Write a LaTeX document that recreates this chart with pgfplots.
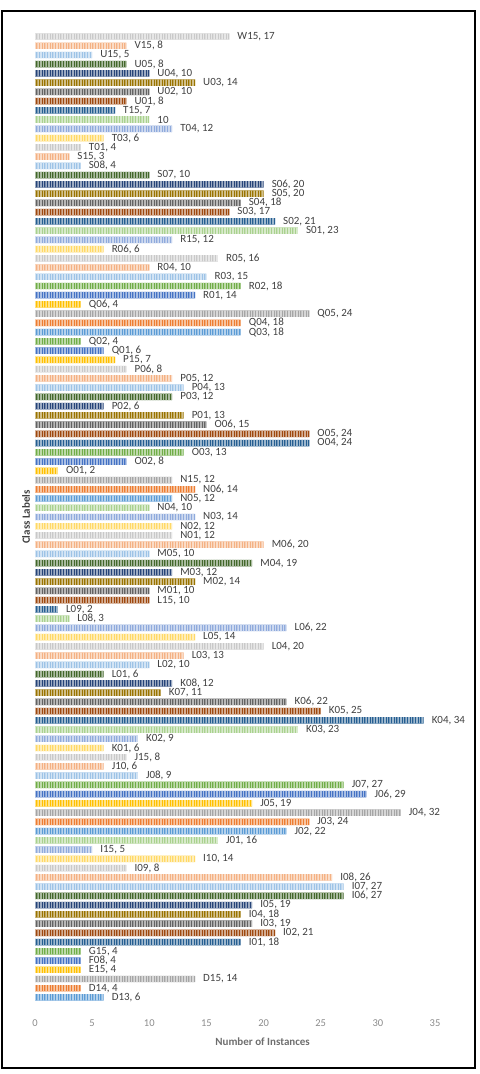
\documentclass[border=0pt]{standalone}
\usepackage{pgfplots}
\pgfplotsset{compat=1.18}
\usepackage{pgfplotstable}
\usepackage{fontspec}
\setmainfont{Carlito}
\usetikzlibrary{patterns.meta}

% Office palette: base, darker and lighter shades
\definecolor{cA}{HTML}{5B9BD5}
\definecolor{cB}{HTML}{ED7D31}
\definecolor{cC}{HTML}{A5A5A5}
\definecolor{cD}{HTML}{FFC000}
\definecolor{cE}{HTML}{4472C4}
\definecolor{cF}{HTML}{70AD47}
\definecolor{cG}{HTML}{255E91}
\definecolor{cH}{HTML}{9E480E}
\definecolor{cI}{HTML}{636363}
\definecolor{cJ}{HTML}{997300}
\definecolor{cK}{HTML}{264478}
\definecolor{cL}{HTML}{43682B}
\definecolor{cM}{HTML}{9DC3E6}
\definecolor{cN}{HTML}{F4B183}
\definecolor{cO}{HTML}{C9C9C9}
\definecolor{cP}{HTML}{FFD966}
\definecolor{cQ}{HTML}{8FAADC}
\definecolor{cR}{HTML}{A9D18E}
\definecolor{labelgray}{HTML}{404040}
\definecolor{tickgray}{HTML}{8C8C8C}
\definecolor{titlegray}{HTML}{6E6E6E}

% i = row position (bottom to top), v = instances; one table per bar colour
\pgfplotstableread{
i v name
0 6 D13
18 22 J02
54 12 N05
72 18 Q03
}\tabA
\pgfplotstableread{
i v name
1 4 D14
19 24 J03
55 14 N06
73 18 Q04
}\tabB
\pgfplotstableread{
i v name
2 14 D15
20 32 J04
56 12 N15
74 24 Q05
}\tabC
\pgfplotstableread{
i v name
3 4 E15
21 19 J05
57 2 O01
69 7 P15
75 4 Q06
}\tabD
\pgfplotstableread{
i v name
4 4 F08
22 29 J06
58 8 O02
70 6 Q01
76 14 R01
}\tabE
\pgfplotstableread{
i v name
5 4 G15
23 27 J07
59 13 O03
71 4 Q02
77 18 R02
}\tabF
\pgfplotstableread{
i v name
6 18 I01
30 34 K04
42 2 L09
60 24 O04
84 21 S02
96 7 T15
}\tabG
\pgfplotstableread{
i v name
7 21 I02
31 25 K05
43 10 L15
61 24 O05
85 17 S03
97 8 U01
}\tabH
\pgfplotstableread{
i v name
8 19 I03
32 22 K06
44 10 M01
62 15 O06
86 18 S04
98 10 U02
}\tabI
\pgfplotstableread{
i v name
9 18 I04
33 11 K07
45 14 M02
63 13 P01
87 20 S05
99 14 U03
}\tabJ
\pgfplotstableread{
i v name
10 19 I05
34 12 K08
46 12 M03
64 6 P02
88 20 S06
100 10 U04
}\tabK
\pgfplotstableread{
i v name
11 27 I06
35 6 L01
47 19 M04
65 12 P03
89 10 S07
101 8 U05
}\tabL
\pgfplotstableread{
i v name
12 27 I07
24 9 J08
36 10 L02
48 10 M05
66 13 P04
78 15 R03
90 4 S08
102 5 U15
}\tabM
\pgfplotstableread{
i v name
13 26 I08
25 6 J10
37 13 L03
49 20 M06
67 12 P05
79 10 R04
91 3 S15
103 8 V15
}\tabN
\pgfplotstableread{
i v name
14 8 I09
26 8 J15
38 20 L04
50 12 N01
68 8 P06
80 16 R05
92 4 T01
104 17 W15
}\tabO
\pgfplotstableread{
i v name
15 14 I10
27 6 K01
39 14 L05
51 12 N02
81 6 R06
93 6 T03
}\tabP
\pgfplotstableread{
i v name
16 5 I15
28 9 K02
40 22 L06
52 14 N03
82 12 R15
94 12 T04
}\tabQ
\pgfplotstableread{
i v name
17 16 J01
29 23 K03
41 3 L08
53 10 N04
83 23 S01
}\tabR
% bar whose label carries the value only
\pgfplotstableread{
i v
95 10
}\tabS

\pgfplotsset{
  cbar/.style={xbar, bar shift=0pt, draw=none, fill=#1,
    postaction={pattern={Lines[angle=90,distance=1.6bp,line width=0.45bp]},
      pattern color=#1!45!white}},
  named/.style={point meta=explicit symbolic,
    nodes near coords={\pgfplotspointmeta, \pgfmathprintnumber{\xval}}},
}

\begin{document}
\begin{tikzpicture}
\useasboundingbox (-35bp,-71.9bp) rectangle (445bp,1002.1bp);
\begin{axis}[
  at={(0,0)}, anchor=south west,
  scale only axis, width=400bp, height=970.2bp,
  xmin=0, xmax=35, ymin=-0.5, ymax=104.5,
  xbar, bar width=0.7,
  axis line style={draw=none},
  xtick={0,5,...,35}, ytick=\empty,
  major tick length=0pt,
  /pgf/number format/assume math mode=true,
  xticklabel style={font=\fontsize{10.5bp}{12bp}\selectfont, text=tickgray,
    anchor=center, yshift=-20.9bp},
  xlabel={Number of Instances},
  every axis x label/.style={at={(axis description cs:0.569,0)}, anchor=center,
    yshift=-39.9bp, font=\bfseries\fontsize{11bp}{13bp}\selectfont, text=titlegray},
  ylabel={Class Labels},
  every axis y label/.style={at={(axis description cs:0,0.5)}, xshift=-9bp,
    rotate=90, anchor=center, font=\bfseries\fontsize{11bp}{13bp}\selectfont, text=labelgray},
  visualization depends on={x \as \xval},
  every node near coord/.append style={anchor=west, inner sep=0pt, xshift=8bp,
    font=\fontsize{11bp}{13bp}\selectfont, text=labelgray},
  clip=false,
]
\addplot[cbar=cA, named] table[x=v, y=i, meta=name] {\tabA};
\addplot[cbar=cB, named] table[x=v, y=i, meta=name] {\tabB};
\addplot[cbar=cC, named] table[x=v, y=i, meta=name] {\tabC};
\addplot[cbar=cD, named] table[x=v, y=i, meta=name] {\tabD};
\addplot[cbar=cE, named] table[x=v, y=i, meta=name] {\tabE};
\addplot[cbar=cF, named] table[x=v, y=i, meta=name] {\tabF};
\addplot[cbar=cG, named] table[x=v, y=i, meta=name] {\tabG};
\addplot[cbar=cH, named] table[x=v, y=i, meta=name] {\tabH};
\addplot[cbar=cI, named] table[x=v, y=i, meta=name] {\tabI};
\addplot[cbar=cJ, named] table[x=v, y=i, meta=name] {\tabJ};
\addplot[cbar=cK, named] table[x=v, y=i, meta=name] {\tabK};
\addplot[cbar=cL, named] table[x=v, y=i, meta=name] {\tabL};
\addplot[cbar=cM, named] table[x=v, y=i, meta=name] {\tabM};
\addplot[cbar=cN, named] table[x=v, y=i, meta=name] {\tabN};
\addplot[cbar=cO, named] table[x=v, y=i, meta=name] {\tabO};
\addplot[cbar=cP, named] table[x=v, y=i, meta=name] {\tabP};
\addplot[cbar=cQ, named] table[x=v, y=i, meta=name] {\tabQ};
\addplot[cbar=cR, named] table[x=v, y=i, meta=name] {\tabR};
\addplot[cbar=cR, point meta=x, nodes near coords] table[x=v, y=i] {\tabS};
\end{axis}
\draw[line width=2bp, black] (-32.5bp,-65.9bp) rectangle (439.5bp,991.1bp);
\end{tikzpicture}
\end{document}
